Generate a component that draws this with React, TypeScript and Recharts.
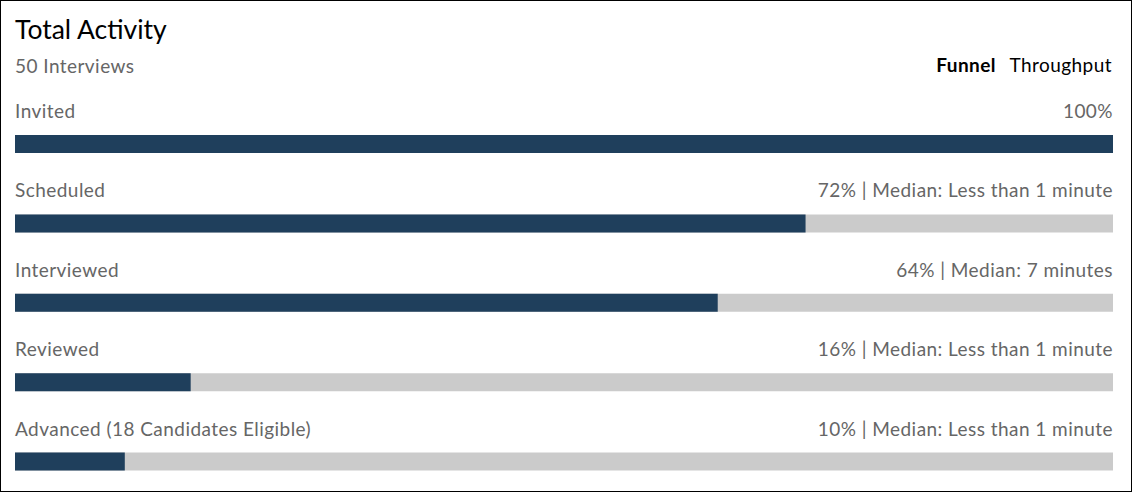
import React from 'react';
import { BarChart, Bar, XAxis, YAxis, LabelList } from 'recharts';

const stages = ['Invited', 'Scheduled', 'Interviewed', 'Reviewed', 'Advanced (18 Candidates Eligible)'];
const percents = [100, 72, 64, 16, 10];
const medians = [null, 'Less than 1 minute', '7 minutes', 'Less than 1 minute', 'Less than 1 minute'];

const W = 1133;
const H = 493;
const M = { top: 104, right: 20, bottom: 0, left: 15 };
const PLOT_RIGHT = W - M.right;
const FONT = 'Lato, "Open Sans", sans-serif';
const GREY = '#666666';
const TXT = { fontSize: 19, fontFamily: FONT, letterSpacing: 0.45 };

const data = stages.map((stage, i) => ({
  stage,
  pct: percents[i],
  info: medians[i] ? `${percents[i]}% | Median: ${medians[i]}` : `${percents[i]}%`,
}));

const StageLabel = (props: any) => (
  <text x={props.x} y={props.y - 17} fill={GREY} {...TXT}>
    {props.value}
  </text>
);

const InfoLabel = (props: any) => (
  <text x={PLOT_RIGHT} y={props.y - 17} fill={GREY} {...TXT} textAnchor="end">
    {props.value}
  </text>
);

export default function App() {
  return (
    <div style={{ position: 'absolute', left: 0, top: 0, width: W, height: H, overflow: 'hidden', background: '#fff' }}>
      <BarChart width={W} height={501} data={data} layout="vertical" margin={M}>
        <XAxis type="number" domain={[0, 100]} hide />
        <YAxis type="category" dataKey="stage" hide />
        <Bar dataKey="pct" fill="#1f3f5c" barSize={18} background={{ fill: '#cbcbcb' }} isAnimationActive={false}>
          <LabelList dataKey="stage" content={StageLabel} />
          <LabelList dataKey="info" content={InfoLabel} />
        </Bar>
      </BarChart>
      <svg width={W} height={H} style={{ position: 'absolute', left: 0, top: 0, pointerEvents: 'none' }}>
        <text x={15} y={39} fontSize={26.5} fontFamily={FONT} fill="#000">Total Activity</text>
        <text x={15} y={73} fill={GREY} {...TXT}>50 Interviews</text>
        <text x={996} y={72} fill="#000" fontWeight="bold" textAnchor="end" {...TXT}>Funnel</text>
        <text x={1112} y={72} fill="#000" textAnchor="end" {...TXT}>Throughput</text>
        <rect x={0.5} y={0.5} width={1131} height={491} fill="none" stroke="#000" strokeWidth={1} />
      </svg>
    </div>
  );
}
